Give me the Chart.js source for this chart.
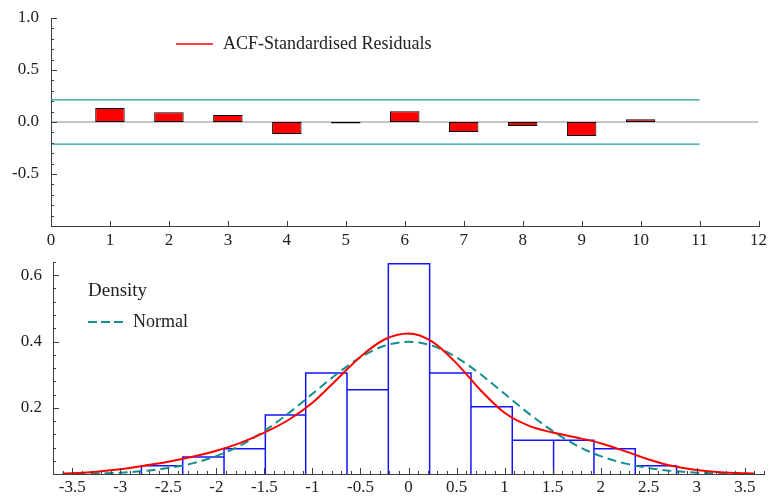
<!DOCTYPE html>
<html>
<head>
<meta charset="utf-8">
<title>Residual diagnostics</title>
<script src="https://cdn.jsdelivr.net/npm/chart.js@4.4.1/dist/chart.umd.min.js"></script>
<style>
    html, body { margin: 0; padding: 0; background: #ffffff; }
    #wrap { position: relative; width: 771px; height: 496px; }
    #acfChart { position: absolute; left: 0; top: 0; }
    #densChart { position: absolute; left: 0; top: 250px; }
</style>
</head>
<body>
<div id="wrap">
    <canvas id="acfChart" width="771" height="250"></canvas>
    <canvas id="densChart" width="771" height="246"></canvas>
</div>
<script>
// ACF of the standardised residuals
const lags = [1, 2, 3, 4, 5, 6, 7, 8, 9, 10];
const acfValues = [0.135, 0.093, 0.067, -0.115, -0.015, 0.103, -0.096, -0.038, -0.135, 0.026];
const confBand = 0.212;
const acfLabel = 'ACF-Standardised Residuals';

// Histogram of the residuals (bin edges and density heights)
const binEdges = [-2.78, -2.35, -1.92, -1.49, -1.07, -0.64, -0.21, 0.22, 0.65, 1.08, 1.51, 1.93, 2.36, 2.79];
const binDensity = [0.025, 0.051, 0.076, 0.178, 0.305, 0.254, 0.635, 0.305, 0.203, 0.102, 0.102, 0.076, 0.025];

// Kernel density and normal reference curve
const curveX = [-3.6, -3.5, -3.25, -3, -2.75, -2.5, -2.25, -2, -1.75, -1.5, -1.25, -1, -0.75, -0.5, -0.25,
    0, 0.25, 0.5, 0.75, 1, 1.25, 1.5, 1.75, 2, 2.25, 2.5, 2.75, 3, 3.25, 3.5, 3.6];
const densityY = [0.001, 0.002, 0.007, 0.014, 0.025, 0.037, 0.052, 0.07, 0.094, 0.125, 0.163, 0.215, 0.284, 0.354, 0.406,
    0.424, 0.399, 0.334, 0.253, 0.185, 0.146, 0.125, 0.11, 0.093, 0.069, 0.044, 0.024, 0.012, 0.005, 0.002, 0.001];
const normalY = [0.001, 0.001, 0.002, 0.004, 0.009, 0.018, 0.032, 0.054, 0.086, 0.13, 0.183, 0.242, 0.301, 0.352, 0.387,
    0.399, 0.387, 0.352, 0.301, 0.242, 0.183, 0.13, 0.086, 0.054, 0.032, 0.018, 0.009, 0.004, 0.002, 0.001, 0.001];
const densityLabel = 'Density';
const normalLabel = 'Normal';

const serif = '"Liberation Serif", "Times New Roman", serif';
const axisColor = '#404040';
const textColor = '#222222';
const teal = '#138f8f';

// ticks drawn on the inner side of the axes
const innerTicks = {
    id: 'innerTicks',
    afterDraw(chart, args, opts) {
        const ctx = chart.ctx;
        const area = chart.chartArea;
        ctx.save();
        ctx.strokeStyle = axisColor;
        ctx.lineWidth = 1;
        (opts.marks || []).forEach(m => {
            const scale = chart.scales[m.axis];
            const n = Math.round((m.to - m.from) / m.step);
            for (let i = 0; i <= n; i++) {
                const v = m.from + i * m.step;
                const p = Math.round(scale.getPixelForValue(v)) + 0.5;
                ctx.beginPath();
                if (m.axis === 'x') {
                    ctx.moveTo(p, area.bottom + (m.below || 0));
                    ctx.lineTo(p, area.bottom - m.len);
                } else {
                    ctx.moveTo(area.left, p);
                    ctx.lineTo(area.left + m.len, p);
                }
                ctx.stroke();
            }
        });
        ctx.restore();
    }
};

// hand placed key entries
const keyBox = {
    id: 'keyBox',
    afterDraw(chart, args, opts) {
        const ctx = chart.ctx;
        ctx.save();
        ctx.textBaseline = 'middle';
        ctx.textAlign = 'left';
        (opts.items || []).forEach(it => {
            if (it.color) {
                ctx.strokeStyle = it.color;
                ctx.lineWidth = it.width || 1.5;
                ctx.setLineDash(it.dash || []);
                ctx.beginPath();
                ctx.moveTo(it.x, it.y);
                ctx.lineTo(it.x + it.len, it.y);
                ctx.stroke();
                ctx.setLineDash([]);
            }
            ctx.fillStyle = textColor;
            ctx.font = (it.size || 18) + 'px ' + serif;
            ctx.fillText(it.text, it.x + (it.len ? it.len + 10 : 0), it.y);
        });
        ctx.restore();
    }
};

function tickFont() {
    return { family: serif, size: 17 };
}

// fixed axis width, and no extra room kept for the end labels
function fixWidth(w) {
    return s => {
        s.width = w;
        s.paddingTop = 0;
        s.paddingBottom = 0;
    };
}

function makeAcfChart() {
    const ctx = document.getElementById('acfChart').getContext('2d');
    return new Chart(ctx, {
        type: 'bar',
        data: {
            datasets: [
                {
                    type: 'bar',
                    data: lags.map((l, i) => ({ x: l, y: acfValues[i] })),
                    backgroundColor: '#ff0000',
                    borderColor: '#000000',
                    borderWidth: 1,
                    borderSkipped: false,
                    barPercentage: 0.5,
                    categoryPercentage: 1
                },
                {
                    type: 'line',
                    data: [{ x: 0, y: confBand }, { x: 11, y: confBand }],
                    borderColor: '#1a9c9c',
                    borderWidth: 1.2,
                    pointRadius: 0
                },
                {
                    type: 'line',
                    data: [{ x: 0, y: -confBand }, { x: 11, y: -confBand }],
                    borderColor: '#1a9c9c',
                    borderWidth: 1.2,
                    pointRadius: 0
                },
                {
                    type: 'line',
                    data: [{ x: 0, y: 0 }, { x: 12, y: 0 }],
                    borderColor: '#8c8c8c',
                    borderWidth: 1,
                    pointRadius: 0
                }
            ]
        },
        options: {
            responsive: false,
            animation: false,
            devicePixelRatio: 1,
            layout: { padding: { left: 0, right: 10, top: 18, bottom: 0 } },
            scales: {
                x: {
                    type: 'linear',
                    offset: false,
                    min: 0,
                    max: 12,
                    ticks: { stepSize: 1, font: tickFont(), color: textColor, padding: 4, maxRotation: 0 },
                    grid: { display: false, drawTicks: false, offset: false },
                    border: { display: true, color: axisColor, width: 1 },
                    afterFit: s => { s.height = 24; }
                },
                y: {
                    min: -1,
                    max: 1,
                    ticks: {
                        stepSize: 0.5,
                        font: tickFont(),
                        color: textColor,
                        padding: 12,
                        callback: v => (v <= -1 ? '' : v.toFixed(1))
                    },
                    grid: { display: false, drawTicks: false },
                    border: { display: true, color: axisColor, width: 1 },
                    afterFit: fixWidth(51)
                }
            },
            plugins: {
                legend: { display: false },
                tooltip: { enabled: false },
                innerTicks: {
                    marks: [
                        { axis: 'y', from: -1, to: 1, step: 0.1, len: 3 },
                        { axis: 'y', from: -1, to: 1, step: 0.5, len: 6 },
                        { axis: 'x', from: 0, to: 12, step: 1, len: 5, below: 1 }
                    ]
                },
                keyBox: {
                    items: [
                        { color: '#ff0000', width: 1.5, x: 176, y: 44, len: 37, text: acfLabel, size: 18 }
                    ]
                }
            }
        },
        plugins: [innerTicks, keyBox]
    });
}

function makeDensityChart() {
    // outline of the histogram bars as one connected path
    const histPath = [];
    binDensity.forEach((h, i) => {
        histPath.push({ x: binEdges[i], y: 0 });
        histPath.push({ x: binEdges[i], y: h });
        histPath.push({ x: binEdges[i + 1], y: h });
        histPath.push({ x: binEdges[i + 1], y: 0 });
    });

    const ctx = document.getElementById('densChart').getContext('2d');
    return new Chart(ctx, {
        type: 'line',
        data: {
            datasets: [
                {
                    data: curveX.map((x, i) => ({ x: x, y: densityY[i] })),
                    borderColor: '#ff0000',
                    borderWidth: 2,
                    pointRadius: 0,
                    cubicInterpolationMode: 'monotone'
                },
                {
                    data: curveX.map((x, i) => ({ x: x, y: normalY[i] })),
                    borderColor: teal,
                    borderWidth: 2,
                    borderDash: [9, 5],
                    pointRadius: 0,
                    cubicInterpolationMode: 'monotone'
                },
                {
                    data: histPath,
                    borderColor: '#1414ff',
                    borderWidth: 1.5,
                    pointRadius: 0,
                    tension: 0
                }
            ]
        },
        options: {
            responsive: false,
            animation: false,
            devicePixelRatio: 1,
            layout: { padding: { left: 0, right: 7, top: 12, bottom: 0 } },
            scales: {
                x: {
                    type: 'linear',
                    min: -3.7,
                    max: 3.7,
                    ticks: {
                        stepSize: 0.5,
                        includeBounds: false,
                        font: tickFont(),
                        color: textColor,
                        padding: 3,
                        maxRotation: 0,
                        autoSkip: false,
                        callback: v => String(Math.round(v * 10) / 10)
                    },
                    grid: { display: false, drawTicks: false },
                    border: { display: true, color: axisColor, width: 1 },
                    afterFit: s => { s.height = 22; }
                },
                y: {
                    min: 0,
                    max: 0.64,
                    ticks: {
                        stepSize: 0.2,
                        includeBounds: false,
                        font: tickFont(),
                        color: textColor,
                        padding: 11,
                        callback: v => (v <= 0 ? '' : v.toFixed(1))
                    },
                    grid: { display: false, drawTicks: false },
                    border: { display: true, color: axisColor, width: 1 },
                    afterFit: fixWidth(53)
                }
            },
            plugins: {
                legend: { display: false },
                tooltip: { enabled: false },
                innerTicks: {
                    marks: [
                        { axis: 'y', from: 0, to: 0.64, step: 0.04, len: 3 },
                        { axis: 'y', from: 0, to: 0.6, step: 0.2, len: 6 },
                        { axis: 'x', from: -3.7, to: 3.7, step: 0.1, len: 3 },
                        { axis: 'x', from: -3.5, to: 3.5, step: 0.5, len: 6 }
                    ]
                },
                keyBox: {
                    items: [
                        { x: 88, y: 41, text: densityLabel, size: 19 },
                        { color: teal, width: 2, dash: [9, 4], x: 88, y: 72, len: 35, text: normalLabel, size: 18 }
                    ]
                }
            }
        },
        plugins: [innerTicks, keyBox]
    });
}

makeAcfChart();
makeDensityChart();
</script>
</body>
</html>
